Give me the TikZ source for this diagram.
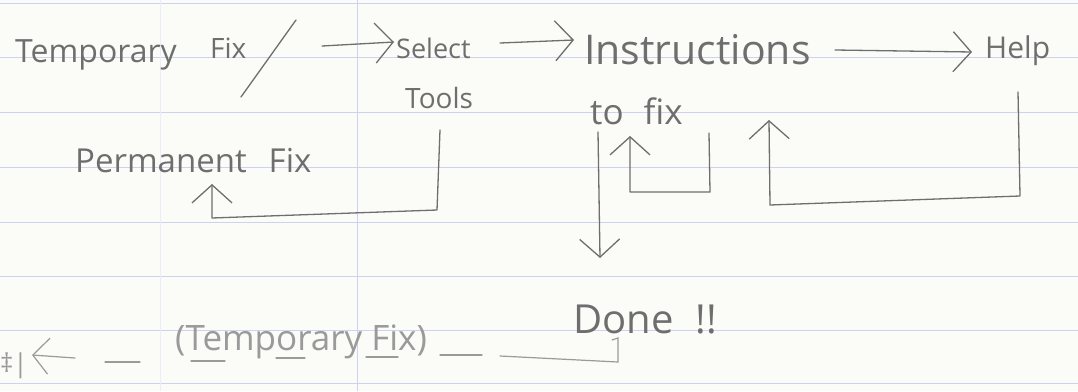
\documentclass[tikz,border=0pt]{standalone}
\usepackage{fontspec}
\setmainfont{Open Sans}
\usetikzlibrary{arrows.meta}
\definecolor{paper}{HTML}{FBFCF8}
\definecolor{rule}{HTML}{CDD2F2}
\definecolor{pencil}{HTML}{6E6E6E}
\definecolor{lightpencil}{HTML}{9A9A9A}
\begin{document}
\begin{tikzpicture}[x=1pt,y=-1pt,
  hand/.style={text=pencil,inner sep=0pt,anchor=base west},
  flow/.style={draw=pencil,line width=1.3pt,line cap=round,line join=round,
    -{Straight Barb[length=18pt,width=40pt,line width=1.3pt]}},
  plain/.style={draw=pencil,line width=1.3pt,line cap=round},
  faint/.style={draw=lightpencil,line width=1.2pt,line cap=round}]
\useasboundingbox (0,0) rectangle (1078,391);
\fill[paper] (0,0) rectangle (1078,391);
\foreach \y in {3,57,112,167,222,276,330,383}
  \draw[rule,line width=0.8pt] (0,\y) -- (1078,\y);
\draw[rule,line width=0.8pt] (357,0) -- (357,391);
\draw[rule!40,line width=0.6pt] (160,0) -- (160,391);

% texts
\node[hand,font=\fontsize{32}{32}\selectfont] (temp) at (15,62) {Temporary};
\node[hand,font=\fontsize{28}{28}\selectfont] (fix) at (210,58) {Fix};
\node[hand,font=\fontsize{27}{27}\selectfont] (sel) at (396,58) {Select};
\node[hand,font=\fontsize{28}{28}\selectfont] (tools) at (405,108) {Tools};
\node[hand,font=\fontsize{41}{41}\selectfont] (instr) at (584,64) {Instructions};
\node[hand,font=\fontsize{35}{35}\selectfont] (tofix) at (590,124) {to\hspace{20pt}fix};
\node[hand,font=\fontsize{30}{30}\selectfont] (help) at (985,58) {Help};
\node[hand,font=\fontsize{33}{33}\selectfont] (perm) at (75,172) {Permanent\hspace{22pt}Fix};
\node[hand,font=\fontsize{40}{40}\selectfont] (done) at (573,333) {Done\hspace{22pt}!!};
\node[hand,text=lightpencil,font=\fontsize{35}{35}\selectfont] (tf2) at (175,350) {(Temporary Fix)};
\node[hand,text=lightpencil,font=\fontsize{26}{26}\selectfont] (cut) at (0,372) {‡|};

% slash after Fix
\coordinate (s1) at (241,97); \coordinate (s2) at (296,20);
\draw[plain] (s1) -- (s2);

% main flow
\coordinate (a1) at (322,46); \coordinate (a2) at (394,42);
\draw[flow] (a1) -- (a2);
\coordinate (b1) at (500,43); \coordinate (b2) at (574,40);
\draw[flow] (b1) -- (b2);
\coordinate (c1) at (835,50); \coordinate (c2) at (972,52);
\draw[flow] (c1) -- (c2);

% Tools back to Permanent Fix
\coordinate (t1) at (440,130); \coordinate (t2) at (437,210);
\coordinate (t3) at (212,218); \coordinate (t4) at (212,184);
\draw[flow] (t1) -- (t2) -- (t3) -- (t4);

% Instructions down to Done
\coordinate (d1) at (598,132); \coordinate (d2) at (600,258);
\draw[flow] (d1) -- (d2);

% self loop on Instructions
\coordinate (l1) at (709,133); \coordinate (l2) at (710,192);
\coordinate (l3) at (630,192); \coordinate (l4) at (630,136);
\draw[flow] (l1) -- (l2) -- (l3) -- (l4);

% Help back to Instructions
\coordinate (h1) at (1018,92); \coordinate (h2) at (1020,196);
\coordinate (h3) at (770,205); \coordinate (h4) at (769,120);
\draw[flow] (h1) -- (h2) -- (h3) -- (h4);

% Done back along dashed temporary fix line
\coordinate (e0) at (612,340); \coordinate (e1) at (618,338);
\coordinate (e2) at (618,362); \coordinate (e3) at (32,355);
\draw[faint] (e0) -- (e1) -- (e2) -- (500,356);
\foreach \xa/\xb/\yy in {440/482/355, 366/398/357, 276/305/358, 191/225/361, 105/140/362}
  \draw[faint] (\xa,\yy) -- (\xb,\yy);
\draw[faint,-{Straight Barb[length=16pt,width=36pt,line width=1.2pt]}] (75,358) -- (e3);
\end{tikzpicture}
\end{document}
